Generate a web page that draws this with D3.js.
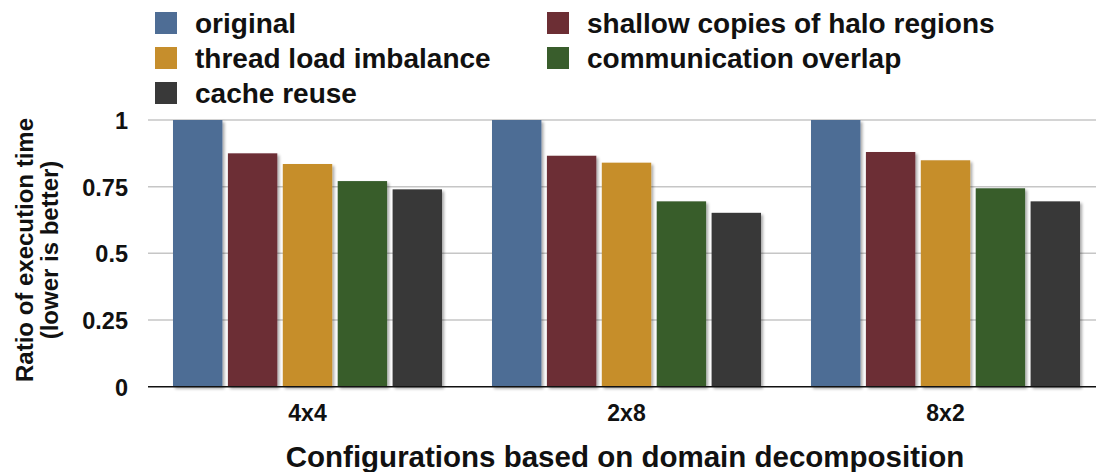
<!DOCTYPE html>
<html>
<head>
<meta charset="utf-8">
<script src="https://cdn.jsdelivr.net/npm/d3@7"></script>
<style>
  html, body { margin: 0; padding: 0; background: #fff; }
  svg { display: block; font-family: "Liberation Sans", Arial, Helvetica, sans-serif; font-weight: bold; }
</style>
</head>
<body>
<svg id="chart" width="1096" height="472"></svg>
<script>
// Configurations (domain decomposition) and optimisation steps
const configs = ["4x4", "2x8", "8x2"];
const seriesNames = [
  "original",
  "shallow copies of halo regions",
  "thread load imbalance",
  "communication overlap",
  "cache reuse"
];
const seriesColors = ["#4e6d95", "#6c2e34", "#c68e2c", "#395d2c", "#393939"];

// Ratio of execution time per configuration, one array per series
const original      = [1.0,   1.0,   1.0];
const shallowCopies = [0.875, 0.866, 0.88];
const loadImbalance = [0.835, 0.84,  0.849];
const commOverlap   = [0.771, 0.695, 0.744];
const cacheReuse    = [0.74,  0.652, 0.695];
const seriesValues = [original, shallowCopies, loadImbalance, commOverlap, cacheReuse];

const yTicks = [0, 0.25, 0.5, 0.75, 1];
const yTickLabels = ["0", "0.25", "0.5", "0.75", "1"];

const svg = d3.select("#chart");

// Soft drop shadow under each bar
const defs = svg.append("defs");
const f = defs.append("filter").attr("id", "barFx")
  .attr("x", "-5%").attr("y", "-5%").attr("width", "115%").attr("height", "115%");
f.append("feGaussianBlur").attr("in", "SourceAlpha").attr("stdDeviation", 1.5).attr("result", "blur");
f.append("feOffset").attr("in", "blur").attr("dx", 2).attr("dy", 2).attr("result", "off");
f.append("feComponentTransfer").attr("in", "off").attr("result", "shadow")
  .append("feFuncA").attr("type", "linear").attr("slope", 0.35);
f.append("feMerge").call(m => {
  m.append("feMergeNode").attr("in", "shadow");
  m.append("feMergeNode").attr("in", "SourceGraphic");
});

const x0 = d3.scaleBand().domain(configs).range([148, 1105]).paddingInner(0).paddingOuter(0);
const x1 = d3.scaleBand().domain(d3.range(seriesNames.length))
  .range([25, x0.bandwidth() - 25]).paddingInner(0.1).paddingOuter(0);
const y = d3.scaleLinear().domain([0, 1]).range([386.7, 120]);

// Grid lines
svg.append("g").selectAll("line").data(yTicks.filter(t => t > 0)).join("line")
  .attr("x1", 148).attr("x2", 1096)
  .attr("y1", d => y(d)).attr("y2", d => y(d))
  .attr("stroke", "#c6c6c6").attr("stroke-width", 1.5);

// Y axis labels
const yAxis = d3.axisLeft(y).tickValues(yTicks)
  .tickFormat((d, i) => yTickLabels[i]).tickSize(0).tickPadding(0);
svg.append("g").attr("transform", "translate(128,0)").call(yAxis)
  .call(g => g.select(".domain").remove())
  .call(g => g.selectAll("text").attr("font-size", 23.5).attr("font-weight", "bold")
    .attr("font-family", "Liberation Sans, Arial, sans-serif").attr("fill", "#111").attr("dy", "0.36em"));

// Bars
const groups = svg.append("g").selectAll("g").data(configs).join("g")
  .attr("transform", d => `translate(${x0(d)},0)`);
groups.selectAll("rect")
  .data((c, ci) => seriesValues.map((vals, si) => ({ si, v: vals[ci] })))
  .join("rect")
  .attr("x", d => x1(d.si))
  .attr("width", x1.bandwidth())
  .attr("y", d => y(d.v))
  .attr("height", d => y(0) - y(d.v))
  .attr("fill", d => seriesColors[d.si])
  .attr("filter", "url(#barFx)");

// Baseline
svg.append("line").attr("x1", 148).attr("x2", 1096).attr("y1", y(0)).attr("y2", y(0))
  .attr("stroke", "#111").attr("stroke-width", 1.5);

// X axis labels
const xAxis = d3.axisBottom(x0).tickSize(0).tickPadding(0);
svg.append("g").attr("transform", "translate(0,405)").call(xAxis)
  .call(g => g.select(".domain").remove())
  .call(g => g.selectAll("text").attr("font-size", 23).attr("font-weight", "bold")
    .attr("font-family", "Liberation Sans, Arial, sans-serif").attr("fill", "#111").attr("dy", "0.71em"));

// Axis titles
svg.append("text").attr("x", 625).attr("y", 467).attr("text-anchor", "middle")
  .attr("font-size", 29.5).attr("fill", "#111").text("Configurations based on domain decomposition");
const yt = svg.append("text").attr("transform", "translate(33,250) rotate(-90)")
  .attr("text-anchor", "middle").attr("font-size", 24).attr("fill", "#111");
yt.append("tspan").attr("x", 0).attr("y", 0).text("Ratio of execution time");
yt.append("tspan").attr("x", 0).attr("y", 25).text("(lower is better)");

// Legend: two columns
const legendPos = [[155, 12], [547, 12], [155, 47], [547, 47], [155, 82]];
const lg = svg.append("g").selectAll("g").data(seriesNames).join("g")
  .attr("transform", (d, i) => `translate(${legendPos[i][0]},${legendPos[i][1]})`);
lg.append("rect").attr("width", 22).attr("height", 22)
  .attr("fill", (d, i) => seriesColors[i]);
lg.append("text").attr("x", 40).attr("y", 20.5).attr("font-size", 28).attr("fill", "#111")
  .text(d => d);
</script>
</body>
</html>
